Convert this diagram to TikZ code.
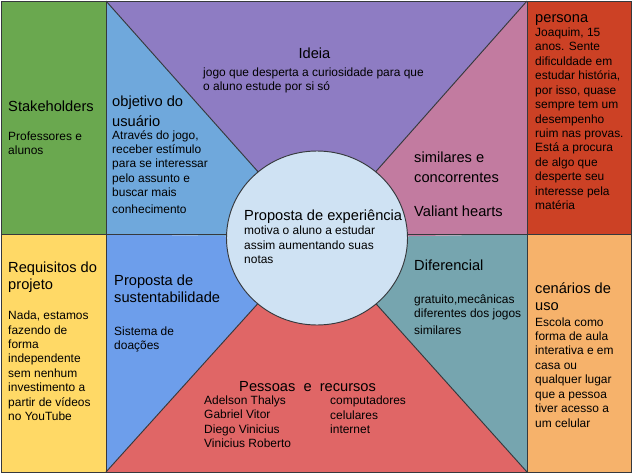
\documentclass[tikz,border=0pt]{standalone}
\usepackage{fontspec}
\setmainfont{Liberation Sans}

\definecolor{linegray}{HTML}{36393D}
\definecolor{stkgreen}{HTML}{6AA84F}
\definecolor{reqyellow}{HTML}{FFD966}
\definecolor{objblue}{HTML}{6FA8DC}
\definecolor{susblue}{HTML}{6D9EEB}
\definecolor{ideiapurple}{HTML}{8E7CC3}
\definecolor{simpink}{HTML}{C27BA0}
\definecolor{difteal}{HTML}{76A5AF}
\definecolor{pesred}{HTML}{E06666}
\definecolor{perred}{HTML}{CC4125}
\definecolor{cenorange}{HTML}{F6B26B}
\definecolor{expblue}{HTML}{CFE2F3}

\begin{document}
\begin{tikzpicture}[x=0.03cm,y=-0.03cm,
  title/.style={anchor=base west,inner sep=0,align=left,font=\fontsize{12.5}{14.4}\selectfont},
  body/.style={anchor=base west,inner sep=0,align=left,font=\fontsize{10.2}{12.3}\selectfont},
  edge/.style={draw=linegray,line width=0.8pt}]
  \useasboundingbox (0,0) rectangle (632,474);
  % corners of the middle part
  \coordinate (tl) at (106,1);
  \coordinate (tr) at (527,1);
  \coordinate (bl) at (106,472);
  \coordinate (br) at (527,472);
  \coordinate (ml) at (106,234);
  \coordinate (mr) at (527,234);
  \coordinate (c) at (317,238);
  % side columns
  \fill[stkgreen] (1,1) rectangle (ml);
  \fill[reqyellow] (1,234) rectangle (bl);
  \fill[perred] (tr) rectangle (631,234);
  \fill[cenorange] (mr) rectangle (631,472);
  % triangles round the centre
  \fill[ideiapurple] (tl) -- (tr) -- (c) -- cycle;
  \fill[objblue] (tl) -- (c) -- (ml) -- cycle;
  \fill[susblue] (ml) -- (c) -- (bl) -- cycle;
  \fill[pesred] (bl) -- (c) -- (br) -- cycle;
  \fill[difteal] (br) -- (c) -- (mr) -- cycle;
  \fill[simpink] (mr) -- (c) -- (tr) -- cycle;
  % borders
  \draw[edge] (tl) -- (c) -- (tr);
  \draw[edge] (bl) -- (c) -- (br);
  \draw[edge] (1,234) -- (631,234);
  \draw[edge] (tl) -- (bl);
  \draw[edge] (tr) -- (br);
  \draw[edge] (1,1) rectangle (631,472);
  % centre
  \draw[edge,fill=expblue] (c) ellipse [x radius=90.5,y radius=87];
  % texts (multi-line nodes sit on their last line)
  \node[title] (stkT) at (8,111) {Stakeholders};
  \node[body] (stkB) at (8,154.5) {Professores e\\alunos};
  \node[title] (objT) at (112,126) {objetivo do\\[2pt]usuário};
  \node[body] (objB) at (112,213.5) {Através do jogo,\\receber estímulo\\para se interessar\\pelo assunto e\\buscar mais\\[2pt]conhecimento};
  \node[title,anchor=base] (ideT) at (314.5,58) {Ideia};
  \node[body] (ideB) at (203,90.5) {jogo que desperta a curiosidade para que\\o aluno estude por si só};
  \node[title] (perT) at (535,22) {persona};
  \node[body] (perB) at (535,209.5) {Joaquim, 15\\anos. Sente\\dificuldade em\\estudar história,\\por isso, quase\\sempre tem um\\desempenho\\ruim nas provas.\\Está a procura\\de algo que\\desperte seu\\interesse pela\\matéria};
  \node[title] (simT) at (414,182) {similares e\\[2pt]concorrentes};
  \node[title] (simB) at (414,216) {Valiant hearts};
  \node[title] (expT) at (244,220) {Proposta de experiência};
  \node[body] (expB) at (244,263.5) {motiva o aluno a estudar\\assim aumentando suas\\notas};
  \node[title] (reqT) at (8,289.5) {Requisitos do\\projeto};
  \node[body] (reqB) at (8,420.5) {Nada, estamos\\fazendo de\\forma\\independente\\sem nenhum\\investimento a\\partir de vídeos\\no YouTube};
  \node[title] (susT) at (114,302.5) {Proposta de\\sustentabilidade};
  \node[body] (susB) at (114,349.5) {Sistema de\\doações};
  \node[title] (difT) at (414,270) {Diferencial};
  \node[body] (difB) at (414,334.5) {gratuito,mecânicas\\diferentes dos jogos\\[2pt]similares};
  \node[title] (cenT) at (535,310.5) {cenários de\\uso};
  \node[body] (cenB) at (535,427) {Escola como\\forma de aula\\interativa e em\\casa ou\\qualquer lugar\\que a pessoa\\tiver acesso a\\um celular};
  \node[title] (pesT) at (239,391) {Pessoas\ \ e\ \ recursos};
  \node[body] (pesB) at (204,447.5) {Adelson Thalys\\Gabriel Vitor\\Diego Vinicius\\Vinicius Roberto};
  \node[body] (recB) at (330,433.5) {computadores\\celulares\\internet};
\end{tikzpicture}
\end{document}
